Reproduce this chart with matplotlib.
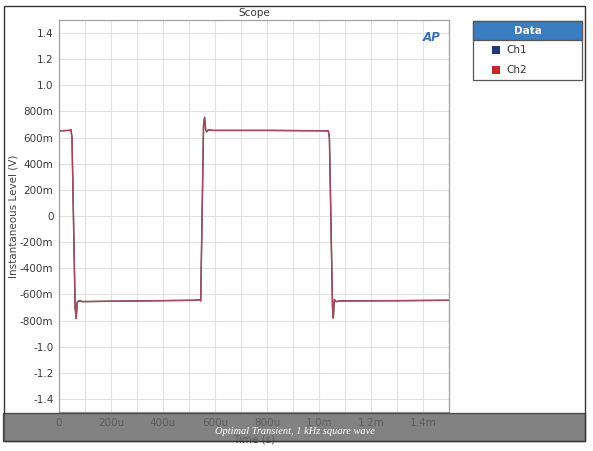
import matplotlib.pyplot as plt
from matplotlib.patches import Rectangle
from matplotlib.ticker import MultipleLocator

# breakpoints of the scope trace (milliseconds, volts)
t_ms = [0.0, 0.040, 0.046, 0.050, 0.062, 0.066, 0.070, 0.076, 0.090, 0.30, 0.52, 0.540, 0.545,
        0.556, 0.560, 0.564, 0.568, 0.575, 0.590, 0.80, 1.030, 1.036, 1.040, 1.052, 1.055,
        1.059, 1.066, 1.080, 1.30, 1.50]
ch2_v = [0.652, 0.655, 0.66, 0.60, -0.70, -0.785, -0.66, -0.648, -0.655, -0.650, -0.645,
         -0.640, -0.65, 0.70, 0.755, 0.66, 0.645, 0.660, 0.655, 0.655, 0.652, 0.650,
         0.60, -0.70, -0.78, -0.64, -0.655, -0.650, -0.648, -0.645]
ch1_v = ch2_v
t = [x / 1000 for x in t_ms]

xticks = [0, 200e-6, 400e-6, 600e-6, 800e-6, 1.0e-3, 1.2e-3, 1.4e-3]
xlabels = ['0', '200u', '400u', '600u', '800u', '1.0m', '1.2m', '1.4m']
yticks = [-1.4, -1.2, -1.0, -0.8, -0.6, -0.4, -0.2, 0, 0.2, 0.4, 0.6, 0.8, 1.0, 1.2, 1.4]
ylabels = ['-1.4', '-1.2', '-1.0', '-800m', '-600m', '-400m', '-200m', '0',
           '200m', '400m', '600m', '800m', '1.0', '1.2', '1.4']

W, H = 593, 451
fig = plt.figure(figsize=(W / 100, H / 100), dpi=100)
fig.patch.set_facecolor('white')

def fx(px):
    return px / W

def fy(py):
    return 1 - py / H

ax = fig.add_axes([fx(59), fy(412), fx(449) - fx(59), fy(20) - fy(412)])
ax.plot(t, ch1_v, color='#1f3a7a', lw=0.9)
ax.plot(t, ch2_v, color='#a64a58', lw=1.1)

ax.set_xlim(0, 1.5e-3)
ax.set_ylim(-1.5, 1.5)
ax.set_xticks(xticks)
ax.set_xticklabels(xlabels)
ax.set_yticks(yticks)
ax.set_yticklabels(ylabels)
ax.xaxis.set_minor_locator(MultipleLocator(100e-6))
ax.grid(True, which='both', color='#e2e2e2', lw=0.8)
ax.tick_params(which='both', length=0, labelsize=7.5, colors='#3a3a3a', pad=4)
for s in ax.spines.values():
    s.set_color('#a0a0a0')
    s.set_linewidth(0.9)
ax.set_ylabel('Instantaneous Level (V)', fontsize=7.5, color='#444444', labelpad=1)
ax.set_xlabel('Time (s)', fontsize=7.5, color='#3a3a3a', labelpad=5)
ax.set_title('Scope', fontsize=7.5, color='#333333', pad=3)

# AP logo
ax.text(0.955, 0.955, 'AP', transform=ax.transAxes, ha='center', va='center',
        fontsize=8.5, fontstyle='italic', fontweight='bold', color='#3b6fc0')

# outer frame
fig.add_artist(Rectangle((fx(4), fy(441)), fx(585) - fx(4), fy(6) - fy(441),
                         transform=fig.transFigure, fill=False, ec='#333333', lw=1.0))

# legend box
lx0, lx1, ly0, ly1, lh = 473, 582, 21, 80, 40
fig.add_artist(Rectangle((fx(lx0), fy(ly1)), fx(lx1) - fx(lx0), fy(ly0) - fy(ly1),
                         transform=fig.transFigure, fc='white', ec='#555555', lw=0.9))
fig.add_artist(Rectangle((fx(lx0), fy(lh)), fx(lx1) - fx(lx0), fy(ly0) - fy(lh),
                         transform=fig.transFigure, fc='#3a7dc0', ec='#555555', lw=0.9))
fig.text(fx((lx0 + lx1) / 2), fy((ly0 + lh) / 2), 'Data', ha='center', va='center',
         fontsize=7.5, fontweight='bold', color='white')
for name, col, yc in [('Ch1', '#1f3a7a', 50), ('Ch2', '#c8282a', 70)]:
    fig.add_artist(Rectangle((fx(492), fy(yc + 4)), fx(8), fy(0) - fy(8),
                             transform=fig.transFigure, fc=col, ec='none'))
    fig.text(fx(506), fy(yc), name, ha='left', va='center', fontsize=7.5, color='#333333')

# caption band, drawn over the x tick labels like the original
fig.add_artist(Rectangle((fx(3), fy(441)), fx(585) - fx(3), fy(413) - fy(441),
                         transform=fig.transFigure, fc='#666666', alpha=0.82,
                         ec='#333333', lw=1.0, zorder=10))
fig.text(fx(295), fy(431), 'Optimal Transient, 1 kHz square wave', ha='center', va='center',
         fontsize=7.5, fontstyle='italic', family='Liberation Serif', color='white', zorder=11)

fig.savefig('out.png', dpi=100)
